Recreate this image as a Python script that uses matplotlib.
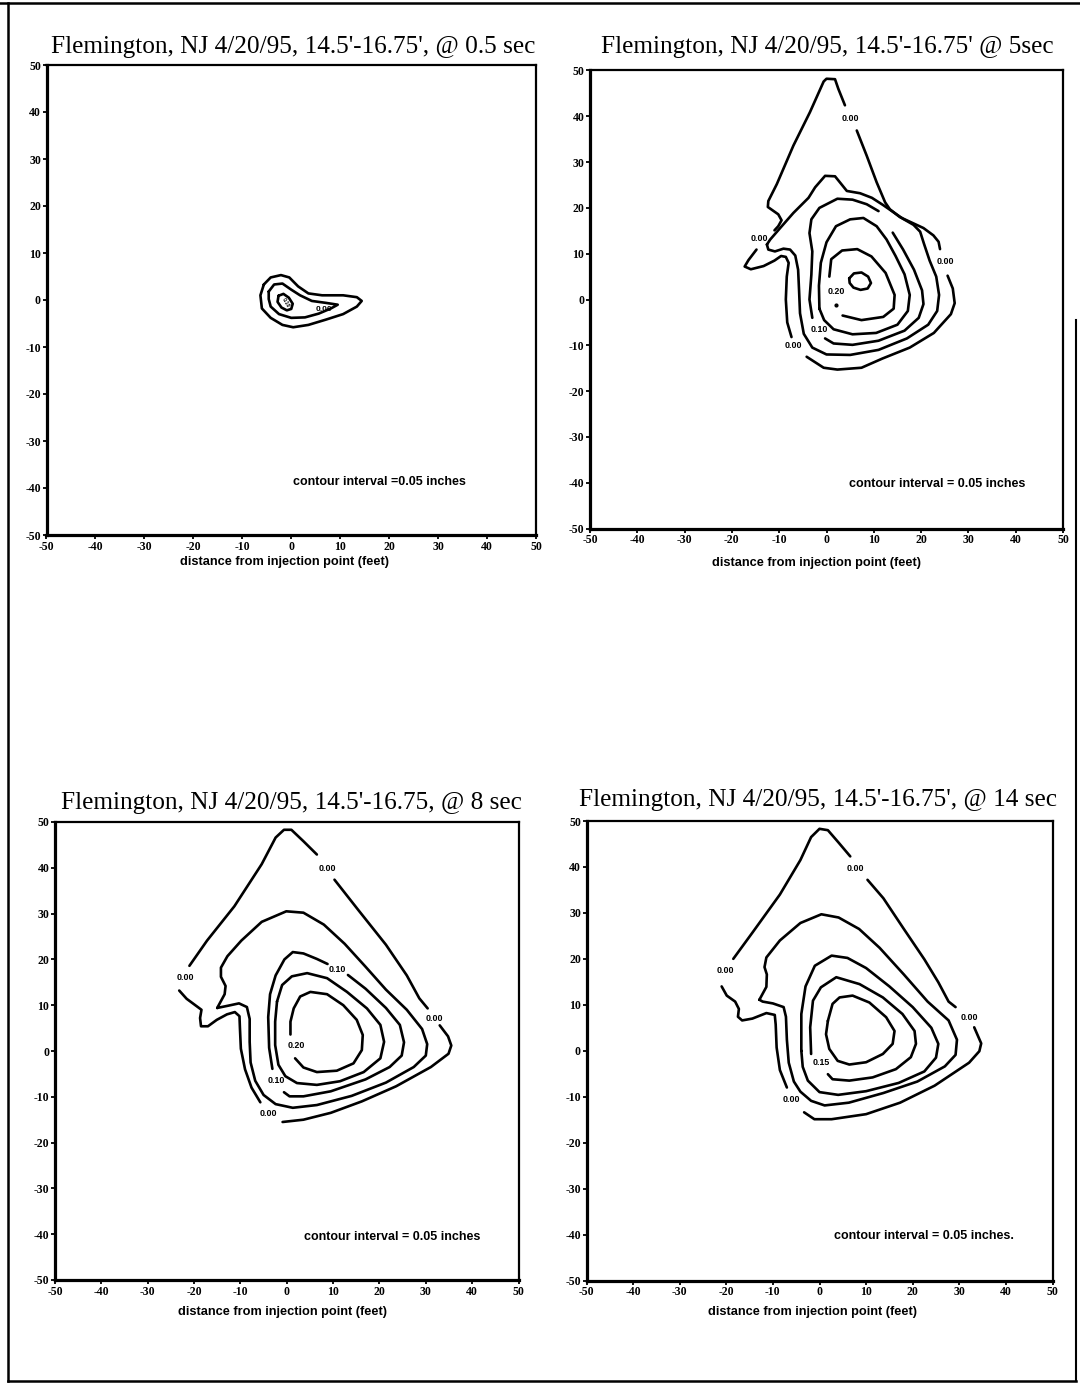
import matplotlib
matplotlib.use("Agg")
import matplotlib.pyplot as plt
from matplotlib.lines import Line2D

# ---------------- data (feet) ----------------
tick_values = [-50, -40, -30, -20, -10, 0, 10, 20, 30, 40, 50]
tick_labels = ["-50", "-40", "-30", "-20", "-10", "0", "10", "20", "30", "40", "50"]

titles = [
    "Flemington, NJ 4/20/95, 14.5'-16.75', @ 0.5 sec",
    "Flemington, NJ 4/20/95, 14.5'-16.75' @ 5sec",
    "Flemington, NJ 4/20/95, 14.5'-16.75, @ 8 sec",
    "Flemington, NJ 4/20/95, 14.5'-16.75', @ 14 sec",
]
notes = [
    "contour interval =0.05 inches",
    "contour interval = 0.05 inches",
    "contour interval = 0.05 inches",
    "contour interval = 0.05 inches.",
]
note_xy = [(18.0, -38.8), (23.5, -40.3), (22.8, -40.6), (22.5, -40.3)]
xlabel_text = "distance from injection point (feet)"

# ---- 0.5 sec ----
p1_outer = [(-5.6, 3.3), (-4.2, 4.8), (-2.1, 5.3), (-0.4, 4.8), (1.4, 2.9), (3.5, 1.4),
            (6.3, 1.0), (10.6, 1.0), (13.4, 0.6), (14.4, -0.2), (13.4, -1.4), (10.6, -3.0),
            (7.0, -4.2), (3.5, -5.3), (0.4, -5.8), (-1.8, -5.3), (-4.2, -3.8), (-6.0, -1.8),
            (-6.3, 1.0)]
p1_middle = [(-4.6, 1.8), (-3.5, 3.3), (-1.8, 3.5), (0.0, 2.2), (1.8, 1.0), (4.2, -0.2),
             (7.0, -0.6), (9.5, -1.0), (8.1, -1.8), (5.6, -2.9), (2.8, -3.7), (0.0, -3.8),
             (-2.5, -3.0), (-4.2, -1.4), (-4.6, 0.2)]
p1_inner = [(-2.6, 0.9), (-1.6, 1.3), (-0.5, 0.5), (0.3, -0.8), (0.0, -1.9), (-0.9, -2.2),
            (-2.0, -1.6), (-2.8, -0.4)]
p1_labels = [("0.00", 6.7, -2.0, 0)]

# ---- 5 sec ----
p2_c000_a = [(-11.0, 15.1), (-10.2, 16.0), (-9.5, 17.3), (-10.2, 18.6), (-12.4, 20.2),
             (-12.3, 21.5), (-10.5, 25.2), (-7.0, 33.6), (-3.5, 40.9), (-0.6, 47.6),
             (0.0, 48.2), (1.8, 48.1), (2.5, 46.0), (3.9, 42.4)]
p2_c000_b = [(6.4, 36.9), (8.5, 31.4), (10.6, 25.6), (12.4, 21.2), (13.4, 19.7), (15.5, 18.0),
             (18.0, 16.8), (20.5, 15.6), (22.6, 14.0), (23.7, 12.6), (24.0, 11.0)]
p2_c000_c = [(25.6, 5.2), (26.7, 2.4), (27.1, -0.8), (26.3, -3.2), (22.7, -7.3), (17.6, -10.5),
             (11.8, -12.9), (7.4, -14.9), (2.3, -15.3), (-0.6, -14.9), (-4.2, -12.5)]
p2_c000_d = [(-7.4, -8.2), (-8.3, -5.0), (-8.6, 0.0), (-8.4, 5.0), (-8.0, 8.0), (-8.6, 9.3),
             (-9.6, 9.5), (-11.0, 8.5), (-13.3, 7.3), (-16.0, 6.6), (-17.3, 7.2), (-16.5, 8.6),
             (-14.8, 10.9)]
p2_c005 = [(-12.6, 12.0), (-11.9, 13.1), (-9.8, 15.6), (-7.0, 18.9), (-3.8, 22.2), (-2.4, 24.5),
           (-0.3, 27.0), (1.8, 26.9), (2.9, 25.5), (4.3, 23.7), (7.1, 23.2), (9.6, 22.2),
           (12.0, 20.6), (14.1, 19.1), (16.2, 17.6), (18.4, 16.3), (19.8, 14.8), (20.6, 12.2),
           (21.8, 8.5), (23.2, 5.0), (23.8, 1.0), (23.4, -2.5), (21.5, -5.5), (17.0, -8.5),
           (11.0, -11.0), (5.0, -12.1), (0.0, -12.0), (-3.0, -10.5), (-4.8, -7.5), (-5.6, -3.0),
           (-5.8, 2.0), (-6.0, 6.5), (-6.6, 9.6), (-7.7, 10.9), (-9.1, 11.1), (-10.9, 10.5),
           (-12.3, 10.9)]
p2_c010_a = [(-3.0, -4.0), (-3.6, 0.0), (-3.2, 5.4), (-3.0, 10.5), (-3.6, 14.5), (-3.2, 17.5),
             (-1.5, 20.0), (2.3, 22.0), (5.5, 21.8), (8.5, 20.8), (11.0, 19.3)]
p2_c010_b = [(14.0, 14.6), (16.2, 10.9), (18.5, 6.5), (20.2, 2.0), (20.5, -1.0), (19.5, -4.0),
             (16.5, -6.8), (11.0, -9.0), (5.5, -9.9), (1.5, -9.6), (-0.3, -8.5)]
p2_c015 = [(-1.5, -2.0), (-1.6, 3.0), (-1.2, 8.0), (0.0, 12.5), (2.0, 16.0), (5.0, 17.5),
           (7.8, 17.8), (10.6, 16.0), (12.7, 13.1), (14.6, 9.5), (16.5, 5.5), (17.6, 1.0),
           (17.2, -2.5), (15.0, -5.5), (10.5, -7.3), (5.5, -7.6), (1.5, -6.5), (-0.5, -4.5)]
p2_c020 = [(0.6, 5.0), (1.0, 8.8), (3.3, 10.7), (6.5, 11.0), (9.5, 9.4), (12.5, 5.8),
           (14.4, 1.0), (14.2, -2.0), (12.0, -3.8), (7.4, -4.5), (3.4, -3.5)]
p2_c025 = [(4.8, 4.6), (5.8, 5.7), (7.4, 5.9), (8.8, 5.0), (9.4, 3.6), (8.7, 2.4), (7.2, 2.1),
           (5.7, 2.6), (4.9, 3.6)]
p2_dot = [(2.0, -1.3)]
p2_labels = [("0.00", 5.0, 39.5, 0), ("0.00", -14.2, 13.3, 0), ("0.00", 25.1, 8.2, 0),
             ("0.00", -7.0, -10.1, 0), ("0.10", -1.6, -6.6, 0), ("0.20", 2.0, 1.8, 0)]

# ---- 8 sec ----
p3_c000_a = [(-21.0, 18.6), (-17.2, 24.1), (-11.3, 31.6), (-5.4, 40.8), (-2.4, 46.6),
             (-0.6, 48.3), (1.0, 48.3), (3.6, 45.8), (6.5, 42.9)]
p3_c000_b = [(10.3, 37.4), (15.5, 30.7), (21.4, 23.2), (25.9, 16.5), (28.6, 11.5), (30.4, 9.3)]
p3_c000_c = [(33.0, 5.6), (34.8, 3.2), (35.5, 1.2), (34.9, -0.6), (31.1, -3.5), (23.6, -7.7),
             (16.2, -11.0), (9.5, -13.5), (3.6, -15.0), (-0.9, -15.5)]
p3_c000_d = [(-5.7, -11.2), (-7.6, -8.0), (-9.0, -4.0), (-9.9, 0.5), (-10.1, 5.0),
             (-10.2, 7.6), (-11.2, 8.5), (-12.9, 8.0), (-15.1, 6.8), (-17.0, 5.4), (-18.5, 5.4),
             (-18.7, 7.2), (-18.4, 9.0), (-20.0, 10.2), (-21.6, 11.4), (-23.2, 13.2)]
p3_c005 = [(-15.0, 9.4), (-13.4, 12.4), (-13.2, 14.2), (-14.2, 16.2), (-14.2, 18.2),
           (-12.8, 20.7), (-9.8, 24.1), (-5.4, 28.2), (-0.1, 30.5), (3.6, 30.2), (8.0, 27.6),
           (12.5, 23.4), (17.0, 18.4), (21.4, 13.4), (25.9, 9.0), (29.2, 4.8), (30.3, 1.5),
           (30.0, -1.0), (27.4, -3.5), (21.4, -6.9), (14.0, -9.8), (6.5, -11.8), (1.3, -12.4),
           (-2.4, -11.6), (-5.0, -9.6), (-6.8, -6.5), (-7.8, -2.5), (-8.0, 2.0), (-8.0, 7.0),
           (-8.6, 9.6), (-10.3, 10.4), (-12.6, 9.9)]
p3_c010_a = [(-3.1, -3.9), (-3.8, 0.7), (-4.0, 7.4), (-3.6, 12.4), (-2.4, 16.5), (-0.5, 20.0),
             (1.3, 21.6), (3.6, 21.3), (6.5, 20.1), (8.8, 19.0)]
p3_c010_b = [(13.2, 16.6), (17.0, 13.6), (21.4, 9.4), (24.4, 5.7), (25.3, 1.9), (24.8, -1.0),
             (22.2, -3.5), (17.0, -6.2), (9.5, -8.8), (3.6, -9.9), (0.6, -9.9), (-0.6, -9.0)]
p3_c015 = [(-2.1, 10.8), (-1.0, 14.4), (1.1, 16.3), (4.4, 17.0), (8.7, 15.9), (13.0, 12.9),
           (17.3, 9.3), (20.2, 5.7), (21.0, 2.0), (20.2, -1.6), (16.6, -4.6), (11.5, -6.6),
           (6.5, -7.4), (2.2, -7.0), (-0.3, -5.5), (-1.8, -3.0), (-2.5, 1.3), (-2.5, 6.4)]
p3_c020 = [(1.8, -1.6), (3.6, -3.6), (6.5, -4.6), (10.8, -4.3), (14.4, -2.7), (16.2, 0.2),
           (16.4, 3.5), (15.1, 6.8), (12.2, 10.0), (8.7, 12.4), (5.1, 12.9), (2.9, 11.9),
           (1.5, 9.3), (0.8, 6.4), (0.8, 3.6)]
p3_labels = [("0.00", 8.8, 39.9, 0), ("0.00", -21.9, 16.0, 0), ("0.00", 31.8, 7.2, 0),
             ("0.00", -3.9, -13.7, 0), ("0.10", 11.0, 17.8, 0), ("0.10", -2.3, -6.4, 0),
             ("0.20", 2.0, 1.3, 0)]

# ---- 14 sec ----
p4_c000_a = [(-18.5, 20.0), (-14.4, 25.7), (-8.5, 34.0), (-4.1, 41.5), (-1.8, 46.5),
             (0.0, 48.3), (1.8, 48.0), (4.1, 45.3), (6.6, 42.3)]
p4_c000_b = [(10.3, 37.2), (13.7, 33.2), (18.1, 26.5), (22.5, 19.9), (25.5, 14.9), (27.7, 10.7),
             (29.2, 9.5)]
p4_c000_c = [(33.2, 5.1), (34.7, 1.6), (34.3, -0.1), (32.1, -2.6), (24.7, -7.6), (17.3, -11.3),
             (10.0, -13.8), (2.6, -14.9), (-1.1, -14.9), (-3.3, -13.4)]
p4_c000_d = [(-7.0, -8.0), (-8.5, -4.2), (-9.2, 0.7), (-9.4, 5.7), (-9.6, 7.8), (-11.4, 8.2),
             (-14.4, 7.0), (-16.6, 6.6), (-17.5, 7.4), (-17.3, 9.1), (-18.1, 10.7),
             (-19.9, 12.0), (-21.0, 14.0)]
p4_c005 = [(-12.9, 11.1), (-11.4, 13.9), (-11.3, 16.6), (-11.8, 18.2), (-11.4, 20.3),
           (-8.5, 24.0), (-4.1, 27.8), (0.4, 29.7), (4.1, 29.0), (8.5, 26.5), (12.9, 22.4),
           (18.1, 16.6), (23.2, 10.7), (27.7, 6.6), (29.5, 2.4), (29.2, -0.9), (26.9, -3.4),
           (21.0, -6.7), (13.7, -9.2), (6.3, -11.3), (1.1, -11.9), (-1.8, -10.9), (-4.1, -8.9),
           (-5.5, -6.7), (-6.6, -2.6), (-7.0, 2.4), (-7.2, 7.4), (-7.7, 9.5), (-10.0, 10.3),
           (-12.2, 10.7)]
p4_c010 = [(-3.9, 0.0), (-3.9, 8.0), (-3.0, 14.0), (-1.0, 18.5), (2.6, 20.7), (6.0, 20.2),
           (10.0, 18.0), (15.0, 14.0), (20.0, 9.5), (24.0, 5.0), (25.5, 1.5), (25.0, -1.5),
           (22.5, -4.5), (17.0, -7.0), (10.0, -8.8), (4.0, -9.6), (0.0, -9.0), (-2.5, -6.5),
           (-3.6, -3.5)]
p4_c015 = [(-1.8, -0.7), (-2.0, 5.1), (-1.4, 10.9), (0.3, 13.8), (3.6, 16.0), (8.6, 14.5),
           (13.6, 11.6), (17.8, 8.0), (20.4, 4.3), (20.7, 1.5), (19.6, -1.4), (16.4, -4.0),
           (11.4, -5.8), (6.4, -6.5), (2.8, -6.2), (1.8, -5.1)]
p4_c020 = [(1.8, 6.5), (2.8, 10.2), (4.3, 11.6), (7.1, 12.0), (10.7, 10.5), (14.3, 7.3),
           (16.1, 4.3), (15.7, 1.5), (13.6, -0.7), (10.0, -2.5), (6.4, -3.0), (3.9, -2.2),
           (2.1, 0.4), (1.4, 3.6)]
p4_labels = [("0.00", 7.7, 39.6, 0), ("0.00", -20.3, 17.4, 0), ("0.00", 32.1, 7.2, 0),
             ("0.00", -6.0, -10.6, 0), ("0.15", 0.3, -2.6, 0)]

# ---------------- drawing ----------------
W, H = 1080, 1384
fig = plt.figure(figsize=(W / 100, H / 100), dpi=100)
fig.patch.set_facecolor("white")

def px_rect(left, right, top, bottom):
    return [left / W, 1 - bottom / H, (right - left) / W, (bottom - top) / H]

axes_px = [(46.5, 536, 65, 535), (590, 1063, 70.5, 528.5),
           (55, 518.5, 822, 1280), (586.5, 1052.5, 821, 1280.5)]
title_px = [(293.5, 47), (827, 47), (291.5, 803), (818, 800)]
xlabel_px = [(284, 562), (817, 563), (283, 1312), (812, 1312)]

LW = 1.9

def draw_line(ax, pts, closed=False):
    xs = [p[0] for p in pts]
    ys = [p[1] for p in pts]
    if closed:
        xs = xs + [xs[0]]
        ys = ys + [ys[0]]
    ax.plot(xs, ys, color="black", lw=LW, solid_capstyle="round", solid_joinstyle="round")

def draw_labels(ax, labels, size=6.4):
    for txt, x, y, rot in labels:
        ax.text(x, y, txt, fontsize=size, fontweight="bold", family="Liberation Sans",
                ha="center", va="center", rotation=rot)

panels = []
for i in range(4):
    ax = fig.add_axes(px_rect(*axes_px[i]))
    ax.set_xlim(-50, 50)
    ax.set_ylim(-50, 50)
    ax.set_xticks(tick_values)
    ax.set_yticks(tick_values)
    ax.set_xticklabels(tick_labels, family="Liberation Serif", fontweight="bold", fontsize=8.5)
    ax.set_yticklabels(tick_labels, family="Liberation Serif", fontweight="bold", fontsize=8.5)
    ax.tick_params(direction="out", length=3, width=1.3, pad=1)
    for side in ["left", "bottom"]:
        ax.spines[side].set_linewidth(2.3)
    for side in ["top", "right"]:
        ax.spines[side].set_linewidth(1.6)
    ax.text(note_xy[i][0], note_xy[i][1], notes[i], fontsize=9.0, fontweight="bold",
            family="Liberation Sans", ha="center", va="center")
    fig.text(title_px[i][0] / W, 1 - title_px[i][1] / H, titles[i], family="Liberation Serif",
             fontsize=18.2, ha="center", va="center")
    fig.text(xlabel_px[i][0] / W, 1 - xlabel_px[i][1] / H, xlabel_text, family="Liberation Sans",
             fontweight="bold", fontsize=9.2, ha="center", va="center")
    panels.append(ax)

ax1, ax2, ax3, ax4 = panels

# 0.5 sec
draw_line(ax1, p1_outer, closed=True)
draw_line(ax1, p1_middle, closed=True)
draw_line(ax1, p1_inner, closed=True)
draw_labels(ax1, p1_labels, size=6.0)
ax1.text(-1.2, -0.5, "0.10", fontsize=3.8, fontweight="bold", ha="center", va="center",
         rotation=-60, family="Liberation Sans")

# 5 sec
for seg in [p2_c000_a, p2_c000_b, p2_c000_c, p2_c000_d, p2_c010_a, p2_c010_b, p2_c020]:
    draw_line(ax2, seg)
for seg in [p2_c005, p2_c015, p2_c025]:
    draw_line(ax2, seg, closed=True)
ax2.plot([p[0] for p in p2_dot], [p[1] for p in p2_dot], "o", color="black", ms=2)
draw_labels(ax2, p2_labels)

# 8 sec
for seg in [p3_c000_a, p3_c000_b, p3_c000_c, p3_c000_d, p3_c010_a, p3_c010_b, p3_c020]:
    draw_line(ax3, seg)
for seg in [p3_c005, p3_c015]:
    draw_line(ax3, seg, closed=True)
draw_labels(ax3, p3_labels)

# 14 sec
for seg in [p4_c000_a, p4_c000_b, p4_c000_c, p4_c000_d, p4_c015]:
    draw_line(ax4, seg)
for seg in [p4_c005, p4_c010, p4_c020]:
    draw_line(ax4, seg, closed=True)
draw_labels(ax4, p4_labels)

# page border of the scanned sheet
def fig_line(x0, y0, x1, y1, lw=1.5):
    fig.add_artist(Line2D([x0 / W, x1 / W], [1 - y0 / H, 1 - y1 / H], color="black", lw=lw))

fig_line(0, 3, W, 3, 1.8)
fig_line(8, 3, 8, 1381, 1.8)
fig_line(8, 1381, 1076, 1381, 1.8)
fig_line(1075.5, 320, 1075.5, 1381, 1.5)

fig.savefig("out.png", dpi=100, facecolor="white")
